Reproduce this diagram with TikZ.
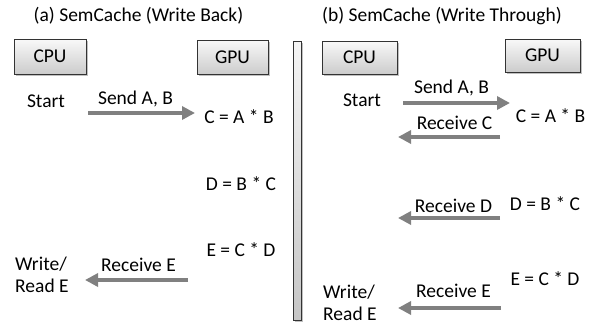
\documentclass[tikz,border=0pt]{standalone}
\usepackage{fontspec}
\setmainfont{Carlito}
\usetikzlibrary{arrows.meta,shadows}
\begin{document}
\begin{tikzpicture}[x=1pt,y=-1pt,
  every node/.style={font=\fontsize{19.5}{23}\selectfont, inner sep=0pt},
  unit/.style={draw=black!80, line width=0.8pt, top color=gray!5, bottom color=gray!40,
    drop shadow={shadow xshift=2pt,shadow yshift=-2pt,opacity=0.45,fill=black!55}},
  msg/.style={draw=black!50, line width=4pt, -{Triangle[length=13pt,width=13pt]}},
  lbl/.style={anchor=base},
  lbll/.style={anchor=base west}]
\useasboundingbox (0,0) rectangle (597,324);

% titles
\node[lbl] (titlea) at (138.5,21) {(a) SemCache (Write Back)};
\node[lbl] (titleb) at (442,21) {(b) SemCache (Write Through)};

% units
\node[unit, minimum width=72pt, minimum height=35pt] (cpua) at (50,56.5) {CPU};
\node[unit, minimum width=71pt, minimum height=34pt] (gpua) at (232.5,57) {GPU};
\node[unit, minimum width=75pt, minimum height=33pt] (cpub) at (359.5,57.5) {CPU};
\node[unit, minimum width=75pt, minimum height=33pt] (gpub) at (542.5,55.5) {GPU};
\node[unit, top color=gray!8, bottom color=gray!45, minimum width=8pt, minimum height=279pt] (bar) at (297,180.5) {};

% (a) texts
\node[lbl] (starta) at (46,107) {Start};
\node[lbl] (senda) at (135.5,104) {Send A, B};
\node[lbl] (ca) at (239,123) {C = A * B};
\node[lbl] (da) at (241,190) {D = B * C};
\node[lbl] (ea) at (241,256) {E = C * D};
\node[lbl] (recea) at (138.5,271) {Receive E};
\node[lbll] (writea) at (15,270) {Write/};
\node[lbll] (reada) at (15,292) {Read E};

% (b) texts
\node[lbl] (startb) at (362,106) {Start};
\node[lbl] (sendb) at (451.5,93) {Send A, B};
\node[lbl] (cb) at (550.5,122) {C = A * B};
\node[lbl] (recc) at (454.5,129) {Receive C};
\node[lbl] (recd) at (453.5,212) {Receive D};
\node[lbl] (db) at (545,210) {D = B * C};
\node[lbl] (eb) at (545,285) {E = C * D};
\node[lbl] (receb) at (453.5,297) {Receive E};
\node[lbll] (writeb) at (323,298) {Write/};
\node[lbll] (readb) at (323,320) {Read E};

% arrow end points
\coordinate (a1s) at (88,113);  \coordinate (a1e) at (195,113);
\coordinate (a2s) at (188,280); \coordinate (a2e) at (85,280);
\coordinate (b1s) at (403,103); \coordinate (b1e) at (510,103);
\coordinate (b2s) at (500,137); \coordinate (b2e) at (398,137);
\coordinate (b3s) at (500,218); \coordinate (b3e) at (398,218);
\coordinate (b4s) at (501,308); \coordinate (b4e) at (398,308);

\draw[msg] (a1s) -- (a1e);
\draw[msg] (a2s) -- (a2e);
\draw[msg] (b1s) -- (b1e);
\draw[msg] (b2s) -- (b2e);
\draw[msg] (b3s) -- (b3e);
\draw[msg] (b4s) -- (b4e);
\end{tikzpicture}
\end{document}
